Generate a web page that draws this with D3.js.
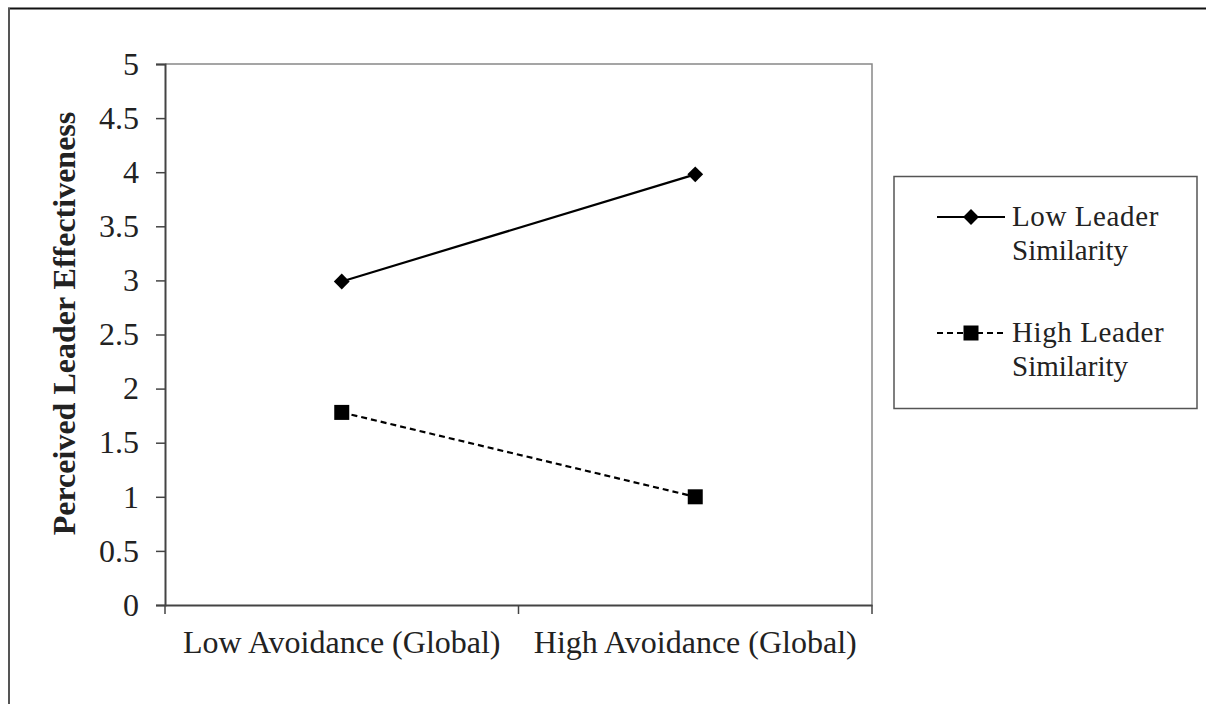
<!DOCTYPE html>
<html><head><meta charset="utf-8">
<script src="https://cdn.jsdelivr.net/npm/d3@7"></script>
<style>body{margin:0;background:#fff}svg{display:block}text{font-family:"Liberation Serif","Times New Roman",serif;fill:#222}</style>
</head><body><svg id="c" width="1206" height="704"></svg>
<script>
const categories = ["Low Avoidance (Global)", "High Avoidance (Global)"];
const seriesNames = ["Low Leader Similarity", "High Leader Similarity"];
const lowSimilarity = [2.99, 3.98];
const highSimilarity = [1.78, 1.0];
const yTicks = [0, 0.5, 1, 1.5, 2, 2.5, 3, 3.5, 4, 4.5, 5];
const yTitle = "Perceived Leader Effectiveness";

const svg = d3.select("#c");
const L = 165, R = 872, T = 64, B = 605;

// outer frame
svg.append("line").attr("x1",8).attr("x2",1206).attr("y1",8.5).attr("y2",8.5).attr("stroke","#111").attr("stroke-width",2);
svg.append("line").attr("x1",9).attr("x2",9).attr("y1",8).attr("y2",704).attr("stroke","#555").attr("stroke-width",2);

const x = d3.scaleBand().domain(categories).range([L, R]);
const y = d3.scaleLinear().domain([0, 5]).range([B, T]);

// plot area border (top & right)
svg.append("path").attr("d", `M${L},${T}H${R}V${B}`).attr("fill","none").attr("stroke","#888").attr("stroke-width",1.5);

// y axis
const ya = svg.append("g").attr("transform", `translate(${L},0)`)
  .call(d3.axisLeft(y).tickValues(yTicks).tickSize(9).tickPadding(17).tickFormat(d => String(d)));
ya.select(".domain").attr("stroke","#444").attr("stroke-width",2);
ya.selectAll(".tick line").attr("stroke","#444").attr("stroke-width",1.5);
ya.selectAll("text").style("font-size","32px").attr("fill","#222");

// x axis
const xa = svg.append("g").attr("transform", `translate(0,${B})`)
  .call(d3.axisBottom(x).tickSize(0).tickPadding(25));
xa.select(".domain").attr("stroke","#444").attr("stroke-width",2);
xa.selectAll("text").style("font-size","32px").attr("fill","#222");
// boundary ticks
const edges = [x.range()[0], ...categories.map(c => x(c) + x.bandwidth())];
svg.append("g").selectAll("line").data(edges).join("line")
  .attr("x1", d => d).attr("x2", d => d).attr("y1", B).attr("y2", B + 9)
  .attr("stroke","#444").attr("stroke-width",1.5);

// y title
svg.append("text").attr("transform", `translate(75,${(T+B)/2 - 11}) rotate(-90)`)
  .attr("text-anchor","middle").style("font-size","32px").style("font-weight","bold").attr("fill","#111").text(yTitle);

const cx = c => x(c) + x.bandwidth()/2;
const line = d3.line().x(d => cx(d.c)).y(d => y(d.v));
const s1 = categories.map((c,i) => ({c, v: lowSimilarity[i]}));
const s2 = categories.map((c,i) => ({c, v: highSimilarity[i]}));

svg.append("path").datum(s1).attr("d", line).attr("fill","none").attr("stroke","#000").attr("stroke-width",2.2);
svg.append("path").datum(s2).attr("d", line).attr("fill","none").attr("stroke","#000").attr("stroke-width",2.2).attr("stroke-dasharray","6,4");

const diamondSym = d3.symbol().type(d3.symbolSquare).size(125);
svg.append("g").selectAll("path").data(s1).join("path")
  .attr("transform", d => `translate(${cx(d.c)},${y(d.v)}) rotate(45)`)
  .attr("d", diamondSym).attr("fill","#000");
svg.append("g").selectAll("rect").data(s2).join("rect")
  .attr("x", d => cx(d.c) - 7.5).attr("y", d => y(d.v) - 7.5).attr("width",15).attr("height",15).attr("fill","#000");

// legend
const lg = svg.append("g");
lg.append("rect").attr("x",894).attr("y",176.5).attr("width",303).attr("height",232).attr("fill","#fff").attr("stroke","#555").attr("stroke-width",1.5);
const items = [{name: seriesNames[0], dash: null, sym: "diamond", y: 217},
               {name: seriesNames[1], dash: "6,4", sym: "square", y: 333}];
const splitName = n => { const p = n.split(" "); return [p.slice(0,2).join(" "), p.slice(2).join(" ")]; };
items.forEach(it => {
  lg.append("line").attr("x1",937).attr("x2",1005).attr("y1",it.y).attr("y2",it.y)
    .attr("stroke","#000").attr("stroke-width",2.2).attr("stroke-dasharray", it.dash);
  if (it.sym === "diamond") {
    lg.append("path").attr("transform",`translate(971,${it.y}) rotate(45)`).attr("d", diamondSym).attr("fill","#000");
  } else {
    lg.append("rect").attr("x",963.5).attr("y",it.y-7.5).attr("width",15).attr("height",15).attr("fill","#000");
  }
  const [a,b] = splitName(it.name);
  const t = lg.append("text").attr("x",1012).attr("y",it.y+9).style("font-size","29px").attr("fill","#222");
  t.append("tspan").attr("x",1012).text(a).style("letter-spacing","0.6px");
  t.append("tspan").attr("x",1012).attr("dy",34).text(b);
});
</script></body></html>
